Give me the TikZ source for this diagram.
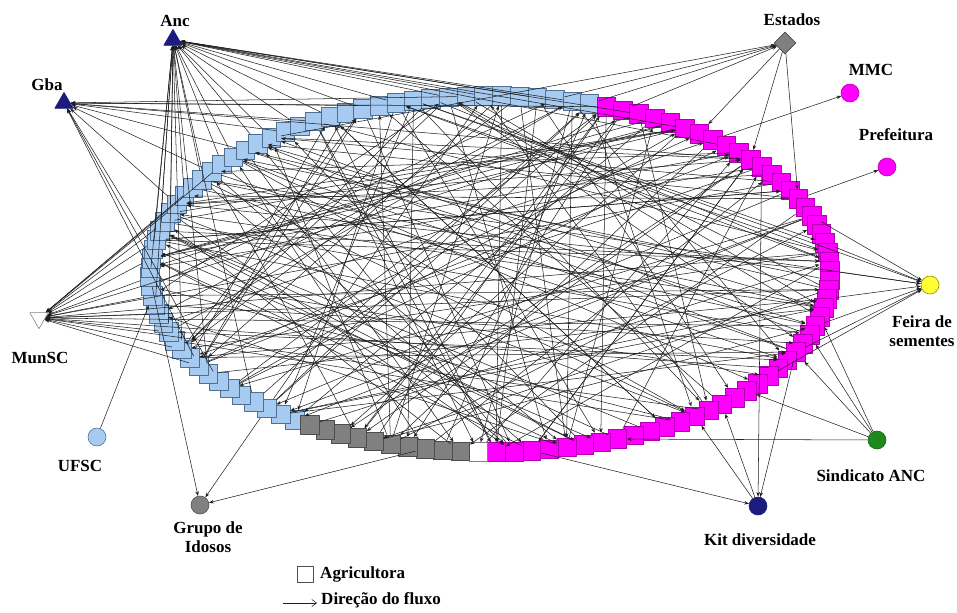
\documentclass[tikz,border=0pt]{standalone}
\usepackage{fontspec}
\setmainfont{Liberation Serif}
\usetikzlibrary{shapes.geometric,arrows.meta}

\definecolor{azulclaro}{HTML}{A6CAF0}
\definecolor{azulborda}{HTML}{4F6F93}
\definecolor{rosa}{HTML}{FF00FF}
\definecolor{rosaborda}{HTML}{B000B0}
\definecolor{cinza}{HTML}{808080}
\definecolor{cinzaborda}{HTML}{4D4D4D}
\definecolor{marinho}{HTML}{1C1C7E}
\definecolor{verde}{HTML}{1E8A1E}
\definecolor{amarelo}{HTML}{FFFF33}
\definecolor{linha}{HTML}{1E1E1E}

\tikzset{
  agri/.style 2 args={rectangle, fill=#1, draw=#2, line width=0.5pt, minimum size=0.56cm, inner sep=0pt},
  ator/.style 2 args={circle, fill=#1, draw=#2, line width=0.5pt, minimum size=0.54cm, inner sep=0pt},
  tri/.style 2 args={regular polygon, regular polygon sides=3, fill=#1, draw=#2, line width=0.5pt, minimum size=0.64cm, inner sep=0pt},
  fluxo/.style={->, draw=linha, line width=0.45pt},
  rotulo/.style={font=\fontsize{14.5}{16}\selectfont\bfseries, inner sep=0pt, align=center}
}

\begin{document}
\begin{tikzpicture}[x=0.03cm, y=-0.03cm, >={Stealth[length=4pt,width=3pt]}, line join=round]
	\useasboundingbox (0,0) rectangle (957,612);
	% Constantes da elipse de agricultoras
	\def\cx{490}
	\def\cy{274}
	\def\ra{340}
	\def\rb{178}
	
	% Agricultoras (quadrados sobre a elipse)
	\foreach \i in {1,...,120}{
		\pgfmathsetmacro\ang{235-3*(\i-1)}
		\ifnum\i<56 \def\cor{azulclaro}\def\borda{azulborda}\else
		\ifnum\i<110 \def\cor{rosa}\def\borda{rosaborda}\else
		\ifnum\i=110 \def\cor{white}\def\borda{cinza}\else
		\def\cor{cinza}\def\borda{cinzaborda}\fi\fi\fi
		\node[agri={\cor}{\borda}] (a\i) at ({\cx+\ra*cos(\ang)}, {\cy-\rb*sin(\ang)}) {};
	}
	
	% Atores externos
	\node[tri={marinho}{marinho}] (anc) at (173,40) {};
	\node[tri={marinho}{marinho}] (gba) at (64,103) {};
	\node[tri={white}{cinza}, shape border rotate=180] (munsc) at (39,318) {};
	\node[diamond, fill=cinza, draw=cinzaborda, line width=0.5pt, minimum size=0.66cm, inner sep=0pt] (estados) at (785,43) {};
	\node[ator={rosa}{rosaborda}] (mmc) at (850,93) {};
	\node[ator={rosa}{rosaborda}] (prefeitura) at (887,167) {};
	\node[ator={amarelo}{olive}] (feira) at (930,285) {};
	\node[ator={verde}{verde!70!black}] (sindicato) at (877,440) {};
	\node[ator={marinho}{marinho}] (kit) at (758,506) {};
	\node[ator={cinza}{cinzaborda}] (grupo) at (200,505) {};
	\node[ator={azulclaro}{azulborda}] (ufsc) at (97,437) {};
	
	% Rotulos
	\node[rotulo] (lanc) at (175,21) {Anc};
	\node[rotulo] (lgba) at (47,85) {Gba};
	\node[rotulo] (lmunsc) at (40,358) {MunSC};
	\node[rotulo] (lestados) at (792,20) {Estados};
	\node[rotulo] (lmmc) at (871,70) {MMC};
	\node[rotulo] (lprefeitura) at (896,135) {Prefeitura};
	\node[rotulo] (lfeira) at (922,331) {Feira de\\sementes};
	\node[rotulo] (lsindicato) at (871,476) {Sindicato ANC};
	\node[rotulo] (lkit) at (760,540) {Kit diversidade};
	\node[rotulo] (lgrupo) at (208,537) {Grupo de\\Idosos};
	\node[rotulo] (lufsc) at (80,466) {UFSC};
	
	% Fluxos entre agricultoras
	\pgfmathsetseed{2718}
	\foreach \k in {1,...,150}{
		\pgfmathtruncatemacro\p{random(1,120)}
		\pgfmathtruncatemacro\q{mod(\p+random(30,90)-1,120)+1}
		\draw[fluxo] (a\p) -- (a\q);
	}
	\draw[fluxo] (a45) -- (a114);
	\draw[fluxo] (a50) -- (a109);
	\draw[fluxo] (a54) -- (a105);
	\draw[fluxo] (a56) -- (a103);
	
	% Fluxos com os atores externos
	\foreach \i in {4,8,11,13,16,19,22,24,26,28,30,32,33,35,36,38,40,42,44,47,49,52,54,58,61,64}
		\draw[fluxo] (a\i) -- (anc);
	\foreach \i in {7,9,22,27,31,34,37,39,43,48,56,66}
		\draw[fluxo] (a\i) -- (gba);
	\foreach \i in {9,11,13,15,17,19,21,23,25,27,29,32,60,69,77,81,85,90,96}
		\draw[fluxo] (a\i) -- (munsc);
	\foreach \i in {36,53,55,57}
		\draw[fluxo] (a\i) -- (estados);
	\foreach \i in {62,66,71}
		\draw[fluxo] (estados) -- (a\i);
	\draw[fluxo] (a63) -- (mmc);
	\draw[fluxo] (a71) -- (prefeitura);
	\foreach \i in {30,45,73,76,79,82,85,88,91}
		\draw[fluxo] (a\i) -- (feira);
	\foreach \i in {84,86,88,93,102}
		\draw[fluxo] (sindicato) -- (a\i);
	\foreach \i in {67,88,107}
		\draw[fluxo] (a\i) -- (kit);
	\foreach \i in {95,97}
		\draw[fluxo] (kit) -- (a\i);
	\foreach \i in {3,19,113}
		\draw[fluxo] (a\i) -- (grupo);
	\draw[fluxo] (ufsc) -- (a17);
	
	% Legenda
	\node[rectangle, fill=white, draw=cinzaborda, line width=0.6pt, minimum size=0.48cm, inner sep=0pt] (legagri) at (305,574) {};
	\node[rotulo, anchor=west] (lagri) at (320,574) {Agricultora};
	\coordinate (legini) at (283,603);
	\coordinate (legfim) at (317,603);
	\draw[-{Straight Barb[length=4pt,width=6pt]}, draw=linha, line width=0.5pt] (legini) -- (legfim);
	\node[rotulo, anchor=west] (lfluxo) at (321,600) {Direção do fluxo};
\end{tikzpicture}
\end{document}
